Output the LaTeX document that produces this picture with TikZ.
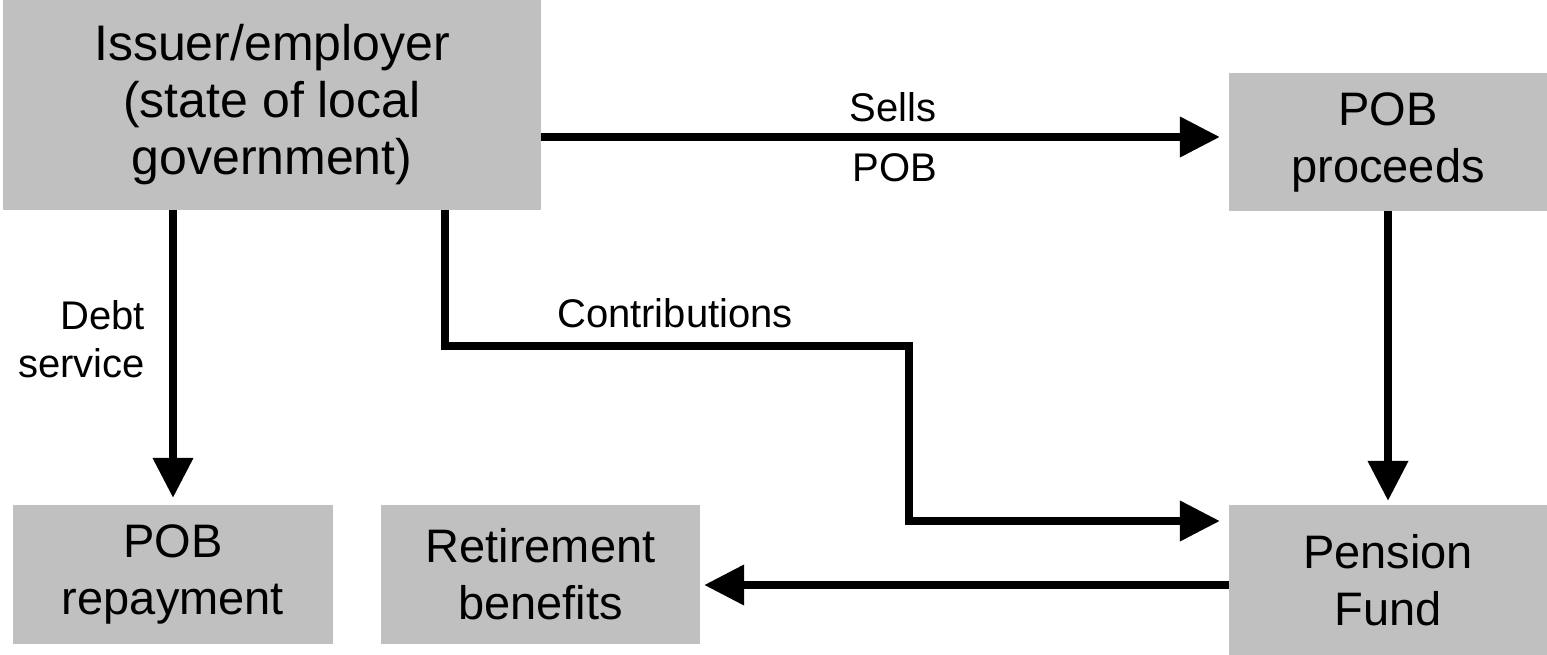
\documentclass[tikz,border=0pt]{standalone}
\usepackage{fontspec}
\setmainfont{Liberation Sans}
\usetikzlibrary{arrows.meta,calc}
\definecolor{boxgray}{RGB}{192,192,192}
\begin{document}
\begin{tikzpicture}[x=1pt,y=-1pt,
  box/.style={fill=boxgray,draw=none,inner sep=0pt,align=center,font=\fontsize{47}{57}\selectfont},
  lab/.style={inner sep=0pt,font=\fontsize{40}{48.5}\selectfont},
  arr/.style={line width=7.5pt,-{Triangle[length=40pt,width=39pt]},line join=miter}]
\useasboundingbox (0,0) rectangle (1547,655);
\node[box,minimum width=538pt,minimum height=210pt,font=\fontsize{50}{57}\selectfont] (issuer) at (272,105) {Issuer/employer\\(state of local\\government)};
\node[box,minimum width=318pt,minimum height=138pt] (proceeds) at (1388,142) {POB\\proceeds};
\node[box,minimum width=320pt,minimum height=139pt] (repay) at (173,574.5) {POB\\repayment};
\node[box,minimum width=319pt,minimum height=139pt] (retire) at (540.5,574.5) {Retirement\\benefits};
\node[box,minimum width=318pt,minimum height=150pt] (pension) at (1388,580) {Pension\\Fund};
% connectors
\draw[arr,shorten >=9pt] ([yshift=5pt]issuer.east |- proceeds.west) -- ([yshift=5pt]proceeds.west);
\draw[arr,shorten >=7pt] (issuer.south -| repay.north) -- (repay.north);
\draw[arr,shorten >=4pt] (proceeds.south) -- (pension.north);
\coordinate (cA) at (445,346);
\coordinate (cB) at (909,521);
\draw[arr,shorten >=9pt] (issuer.south -| cA) -- (cA) -| (cB) -- (cB -| pension.west);
\draw[arr,shorten >=4pt] ([yshift=-5pt]pension.west) -- ([yshift=-5pt]retire.east |- pension.west);
% labels
\node[lab,anchor=base] (sells) at (893,122) {Sells};
\node[lab,anchor=base] (pob) at (895,182) {POB};
\node[lab,anchor=north east,align=right] (debt) at (145,300) {Debt\\service};
\node[lab,anchor=base] (contrib) at (675,327) {Contributions};
\end{tikzpicture}
\end{document}
